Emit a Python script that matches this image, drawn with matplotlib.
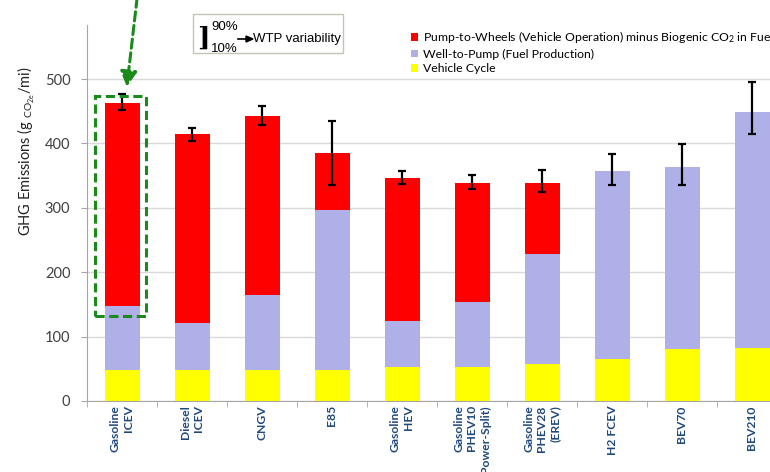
import matplotlib
matplotlib.use("Agg")
import matplotlib.pyplot as plt
import numpy as np
from matplotlib.patches import Rectangle

plt.rcParams["font.family"] = ["Lato", "DejaVu Sans"]
plt.rcParams["mathtext.fontset"] = "custom"
plt.rcParams["mathtext.rm"] = "Lato"
plt.rcParams["mathtext.it"] = "Lato:italic"

categories = [
    "Gasoline\nICEV", "Diesel\nICEV", "CNGV", "E85", "Gasoline\nHEV",
    "Gasoline\nPHEV10\nPower-Split)", "Gasoline\nPHEV28\n(EREV)",
    "H2 FCEV", "BEV70", "BEV210",
]
vehicle_cycle = [48, 48, 48, 48, 53, 53, 58, 66, 80, 83]
well_to_pump_top = [148, 121, 165, 297, 124, 154, 229, 357, 363, 449]
total = [463, 414, 443, 385, 346, 338, 338, 357, 363, 449]
err_low = [452, 404, 429, 336, 337, 329, 324, 335, 335, 415]
err_high = [477, 424, 458, 435, 357, 351, 359, 383, 399, 495]

legend_labels = [
    "Pump-to-Wheels (Vehicle Operation) minus Biogenic CO$_2$ in Fuel",
    "Well-to-Pump (Fuel Production)",
    "Vehicle Cycle",
]

RED = "#FF0000"
LAV = "#B0B0E8"
YEL = "#FFFF00"
GREEN = "#1A8A1A"

vc = np.array(vehicle_cycle, dtype=float)
wtp = np.array(well_to_pump_top, dtype=float) - vc
ptw = np.array(total, dtype=float) - np.array(well_to_pump_top, dtype=float)
tot = np.array(total, dtype=float)
yerr = np.vstack([tot - np.array(err_low), np.array(err_high) - tot])

fig = plt.figure(figsize=(7.7, 4.72), dpi=100)
ax = fig.add_axes([87 / 770, 71 / 472, 700 / 770, 376 / 472])
x = np.arange(len(categories))
w = 0.5

b3 = ax.bar(x, vc, w, color=YEL, zorder=2)
b2 = ax.bar(x, wtp, w, bottom=vc, color=LAV, zorder=2)
b1 = ax.bar(x, ptw, w, bottom=vc + wtp, color=RED, zorder=2)
ax.errorbar(x, tot, yerr=yerr, fmt="none", ecolor="black", elinewidth=1.6,
            capsize=3, capthick=1.6, zorder=3)

ax.set_xlim(-0.5, len(categories) - 0.5)
ax.set_ylim(0, 584)
ax.set_yticks(np.arange(0, 501, 100))
ax.yaxis.grid(True, color="#D9D9D9", lw=1, zorder=0)
ax.set_axisbelow(True)
for s in ["top", "right"]:
    ax.spines[s].set_visible(False)
for s in ["left", "bottom"]:
    ax.spines[s].set_color("#A6A6A6")
ax.tick_params(axis="y", colors="#A6A6A6", labelcolor="#404040", labelsize=10.5,
               length=4, pad=8)

ax.set_xticks(x)
ax.set_xticklabels(categories, rotation=90, fontsize=8.7, fontweight="bold",
                   color="#1F497D", va="top", ha="center", multialignment="right",
                   linespacing=1.25)
ax.tick_params(axis="x", which="major", length=0, pad=3)
ax.set_xticks(np.arange(-0.5, len(categories), 1), minor=True)
ax.tick_params(axis="x", which="minor", length=4, color="#A6A6A6")

ax.set_ylabel("GHG Emissions (g $_{\\mathregular{CO_{2e}}}$/mi)", fontsize=10.5,
              color="#222222")
ax.yaxis.set_label_coords(-0.071, 0.665)

# highlight box and arrow around the gasoline ICEV bar
ax.add_patch(Rectangle((-0.38, 132), 0.72, 342, fill=False, ls=(0, (3, 1.5)),
                       lw=2.2, ec=GREEN, zorder=4, clip_on=False))
ax.annotate("", xy=(0.065, 484), xytext=(0.22, 630), annotation_clip=False,
            arrowprops=dict(arrowstyle="-|>,head_length=0.9,head_width=0.5",
                            color=GREEN, lw=2.2, ls=(0, (3, 1.5))))

# legend
fig.legend([b1, b2, b3], legend_labels, loc="upper left",
           bbox_to_anchor=(411 / 770, 1 - 29 / 472), frameon=False,
           fontsize=8.8, handlelength=0.6, handleheight=0.6, handletextpad=0.4,
           labelspacing=0.3, borderaxespad=0, borderpad=0)

# WTP variability key box
fig.patches.append(Rectangle((193 / 770, 1 - 53 / 472), 150 / 770, 39 / 472,
                             transform=fig.transFigure, fill=False,
                             ec="#C4C4B4", lw=1))
fig.text(197 / 770, 1 - 38 / 472, "]", fontsize=19, fontweight="bold",
         family="DejaVu Serif", va="center", ha="left")
fig.text(211 / 770, 1 - 27 / 472, "90%", fontsize=9.5, family="Liberation Sans",
         va="center", ha="left")
fig.text(211 / 770, 1 - 49 / 472, "10%", fontsize=9.5, family="Liberation Sans",
         va="center", ha="left")
fig.add_artist(plt.Line2D([238 / 770, 247 / 770], [1 - 39 / 472, 1 - 39 / 472],
                          color="black", lw=1.2, transform=fig.transFigure))
fig.text(253 / 770, 1 - 39 / 472, "WTP variability", fontsize=9.5,
         family="Liberation Sans", va="center", ha="left")
fig.add_artist(plt.Polygon([[246 / 770, 1 - 36 / 472], [253 / 770, 1 - 39 / 472],
                            [246 / 770, 1 - 42 / 472]], closed=True, color="black",
                           transform=fig.transFigure))

fig.savefig("out.png", dpi=100)
